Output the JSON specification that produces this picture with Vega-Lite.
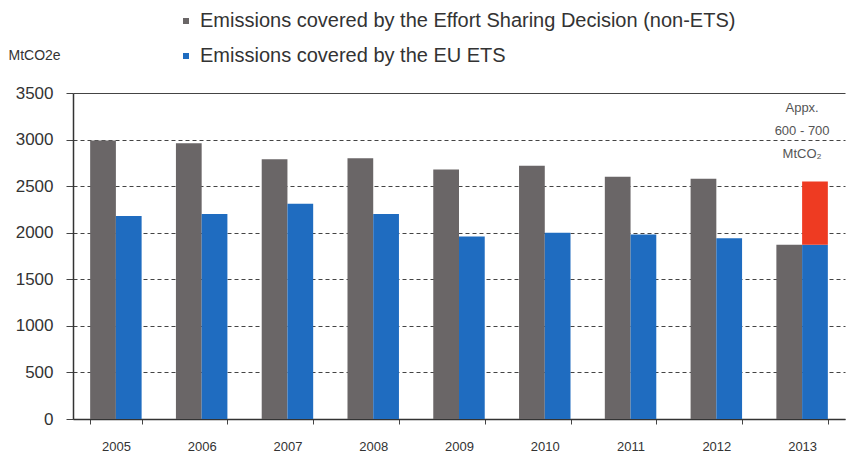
{
  "$schema": "https://vega.github.io/schema/vega-lite/v6.json",
  "width": 772,
  "height": 326,
  "autosize": {"type": "none"},
  "padding": {"left": 73, "top": 93, "right": 4, "bottom": 40},
  "background": "white",
  "config": {
    "view": {"stroke": null},
    "font": "Liberation Sans"
  },
  "datasets": {
    "bars": [
      {"year": "2005", "col": "A", "series": "Emissions covered by the Effort Sharing Decision (non-ETS)", "value": 2990},
      {"year": "2005", "col": "B", "series": "Emissions covered by the EU ETS", "value": 2180},
      {"year": "2006", "col": "A", "series": "Emissions covered by the Effort Sharing Decision (non-ETS)", "value": 2960},
      {"year": "2006", "col": "B", "series": "Emissions covered by the EU ETS", "value": 2200},
      {"year": "2007", "col": "A", "series": "Emissions covered by the Effort Sharing Decision (non-ETS)", "value": 2790},
      {"year": "2007", "col": "B", "series": "Emissions covered by the EU ETS", "value": 2310},
      {"year": "2008", "col": "A", "series": "Emissions covered by the Effort Sharing Decision (non-ETS)", "value": 2800},
      {"year": "2008", "col": "B", "series": "Emissions covered by the EU ETS", "value": 2200},
      {"year": "2009", "col": "A", "series": "Emissions covered by the Effort Sharing Decision (non-ETS)", "value": 2680},
      {"year": "2009", "col": "B", "series": "Emissions covered by the EU ETS", "value": 1960},
      {"year": "2010", "col": "A", "series": "Emissions covered by the Effort Sharing Decision (non-ETS)", "value": 2720},
      {"year": "2010", "col": "B", "series": "Emissions covered by the EU ETS", "value": 2000},
      {"year": "2011", "col": "A", "series": "Emissions covered by the Effort Sharing Decision (non-ETS)", "value": 2600},
      {"year": "2011", "col": "B", "series": "Emissions covered by the EU ETS", "value": 1980},
      {"year": "2012", "col": "A", "series": "Emissions covered by the Effort Sharing Decision (non-ETS)", "value": 2580},
      {"year": "2012", "col": "B", "series": "Emissions covered by the EU ETS", "value": 1940},
      {"year": "2013", "col": "A", "series": "Emissions covered by the Effort Sharing Decision (non-ETS)", "value": 1870},
      {"year": "2013", "col": "B", "series": "Emissions covered by the EU ETS", "value": 1870},
      {"year": "2013", "col": "B", "series": "Gap", "value": 680}
    ],
    "note": [
      {"year": "2013", "col": "B", "label": ["Appx.", "600 - 700", "MtCO₂"], "value": 3340}
    ]
  },
  "layer": [
    {
      "data": {"name": "bars"},
      "mark": {"type": "bar"},
      "encoding": {
        "x": {
          "field": "year", "type": "ordinal",
          "scale": {"paddingInner": 0.4, "paddingOuter": 0.2},
          "axis": {
            "title": null, "labelAngle": 0, "labelFont": "Liberation Sans", "labelFontSize": 13,
            "labelColor": "#333333", "labelPadding": 16, "tickBand": "extent", "tickSize": 5,
            "tickColor": "#444444", "domainColor": "#333333", "domainWidth": 1.5
          }
        },
        "xOffset": {"field": "col", "type": "nominal", "scale": {"paddingInner": 0}},
        "y": {
          "field": "value", "type": "quantitative", "stack": "zero",
          "scale": {"domain": [0, 3500], "nice": false},
          "axis": {
            "values": [0, 500, 1000, 1500, 2000, 2500, 3000, 3500],
            "format": "d",
            "title": "MtCO2e", "titleAngle": 0, "titleAlign": "left", "titleBaseline": "middle",
            "titleX": -65, "titleY": -38, "titleFont": "Liberation Sans", "titleFontSize": 14,
            "titleFontWeight": "normal", "titleColor": "#333333",
            "labelFont": "Liberation Sans", "labelFontSize": 17, "labelColor": "#333333", "labelPadding": 13,
            "tickSize": 7, "tickColor": "#444444", "domainColor": "#333333", "domainWidth": 1.5,
            "grid": true, "gridColor": "#444444", "gridWidth": 1.2,
            "gridDash": {"condition": {"test": "datum.value == 3500", "value": []}, "value": [4, 3]}
          }
        },
        "color": {
          "field": "series", "type": "nominal",
          "scale": {
            "domain": ["Emissions covered by the Effort Sharing Decision (non-ETS)", "Emissions covered by the EU ETS", "Gap"],
            "range": ["#6a6667", "#1f6cc0", "#ee3b22"]
          },
          "legend": {
            "values": ["Emissions covered by the Effort Sharing Decision (non-ETS)", "Emissions covered by the EU ETS"],
            "title": null, "orient": "none", "legendX": 103, "legendY": -82,
            "symbolType": "square", "symbolSize": 36, "rowPadding": 15,
            "labelFont": "Liberation Sans", "labelFontSize": 20, "labelColor": "#333333",
            "labelLimit": 700, "labelOffset": 4
          }
        },
        "order": {"field": "series", "type": "nominal", "sort": "ascending"}
      }
    },
    {
      "data": {"name": "note"},
      "mark": {"type": "text", "font": "Liberation Sans", "fontSize": 13, "color": "#555555", "lineHeight": 23, "baseline": "middle", "align": "center"},
      "encoding": {
        "x": {"field": "year", "type": "ordinal"},
        "y": {"field": "value", "type": "quantitative"},
        "text": {"field": "label"}
      }
    }
  ]
}
